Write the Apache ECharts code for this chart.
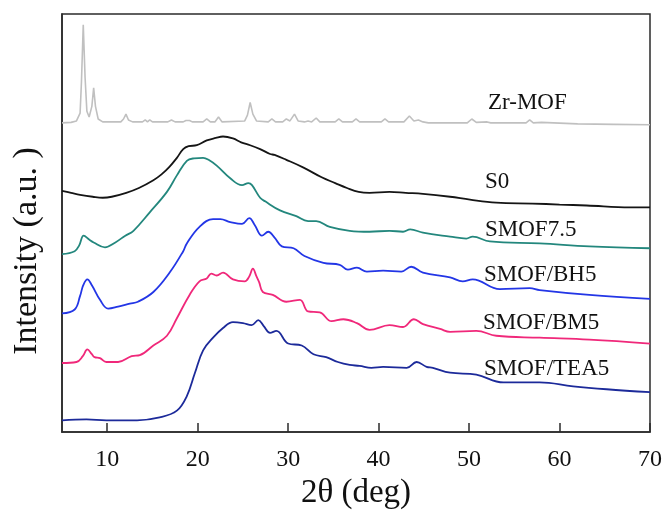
<!DOCTYPE html>
<html>
<head>
<meta charset="utf-8">
<style>
  html, body { margin: 0; padding: 0; background: #ffffff; }
  #chart { width: 665px; height: 515px; }
</style>
<script src="https://cdn.jsdelivr.net/npm/echarts@6/dist/echarts.min.js"></script>
</head>
<body>
<div id="chart"></div>
<script>
// XRD patterns, stacked with vertical offsets (intensity in a.u.).
// Each series is a list of [2θ (deg), stacked intensity] pairs.

const xTicks = [10, 20, 30, 40, 50, 60, 70];

const zrMOF = [
  [5, 318], [6.0, 318.5], [6.6, 320], [7.0, 328], [7.15, 360], [7.35, 419], [7.55, 365],
  [7.75, 330], [8.0, 324], [8.3, 335], [8.5, 354], [8.7, 335], [9.0, 322], [9.5, 319],
  [11.5, 319], [11.8, 322], [12.07, 327], [12.35, 321], [12.8, 319], [13.9, 319],
  [14.2, 321], [14.45, 319], [14.7, 321], [15.0, 319], [16.7, 319], [17.1, 321],
  [17.5, 319], [18.4, 319], [18.7, 320.5], [18.9, 319.5], [19.1, 320.5], [19.4, 319],
  [20.6, 319], [21.0, 322], [21.4, 319], [21.9, 319], [22.3, 324], [22.7, 319],
  [25.2, 320], [25.5, 326], [25.8, 339], [26.1, 327], [26.5, 320], [27.8, 319],
  [28.2, 322], [28.6, 319], [29.4, 319], [29.8, 322], [30.2, 320], [30.7, 327],
  [31.1, 320], [31.8, 319], [32.2, 320], [32.6, 319], [32.8, 320], [33.1, 323],
  [33.5, 319], [34.6, 319], [35.2, 319], [35.6, 322], [36.0, 319], [37.1, 319],
  [37.5, 322], [37.9, 319], [39.4, 319], [40.3, 319], [40.7, 322], [41.1, 319],
  [42.8, 319], [43.4, 325], [43.9, 320], [44.4, 321], [44.9, 319], [45.5, 318],
  [49.8, 318], [50.3, 322], [50.8, 318.5], [52.0, 319], [52.4, 318], [56.3, 318],
  [56.7, 321], [57.1, 318], [58.0, 318.5], [62, 317], [66, 316.5], [70, 316]
];

const s0 = [
  [5, 248], [6, 246], [7, 244], [8.4, 242], [9.5, 241], [10.5, 242], [12.1, 246],
  [13.5, 251], [15.1, 259], [16.0, 265], [16.9, 273], [17.7, 282], [18.4, 291],
  [19.0, 294], [19.9, 295], [21.0, 300], [22.0, 302.5], [22.8, 304], [23.9, 302],
  [24.8, 298], [25.8, 295], [26.9, 291], [28.0, 286], [28.5, 285], [29.8, 280],
  [31.7, 272], [33.7, 262], [35.2, 256], [36.5, 251], [37.8, 247], [39.0, 246],
  [41.2, 247], [43, 246], [44.9, 245], [47.9, 242], [50.1, 239], [53.0, 236],
  [57, 235], [60, 234], [63, 233], [67.8, 231], [70, 231]
];

const smof75 = [
  [5, 183], [6.4, 186], [6.9, 192], [7.4, 202], [8.0, 198], [8.5, 195], [9.75, 190],
  [10.9, 195], [12.0, 202], [12.9, 207], [14.7, 226], [16.6, 247], [17.7, 264],
  [18.8, 279], [19.6, 281.5], [20.6, 282], [21.2, 280], [22.1, 274], [23.6, 261],
  [24.9, 254], [25.6, 256], [26.0, 254], [26.9, 241], [27.5, 237], [29.1, 228],
  [30.9, 222], [32.2, 217], [33.1, 217], [34.6, 211], [36.8, 207], [39, 206],
  [41.2, 207], [42.7, 206], [43.5, 208.5], [44.9, 205], [47.9, 201], [49.7, 199],
  [50.4, 201], [52.3, 196], [57.8, 194], [63.3, 191], [70, 189]
];

const smofBH5 = [
  [5, 122], [6.4, 126], [7.0, 140], [7.35, 151], [7.8, 157], [8.3, 151], [9.2, 136],
  [10.1, 127], [11.2, 129], [12.5, 132], [13.4, 134], [15.1, 144], [16.9, 164],
  [18.4, 186], [18.8, 194], [20.2, 211], [21.7, 219], [22.5, 219], [23.6, 216],
  [24.9, 214], [25.7, 220], [26.3, 213], [27.1, 202], [27.8, 206], [28.5, 200],
  [29.3, 191], [30.6, 189], [31.8, 181], [33.9, 174], [35.7, 172], [36.6, 167],
  [37.6, 169], [38.7, 165], [40.5, 166], [42.5, 165], [43.6, 170], [44.9, 164],
  [47.9, 159], [49.3, 155], [50.4, 157], [53.4, 147], [56.7, 148], [57.8, 146],
  [63.3, 141], [70, 137]
];

const smofBM5 = [
  [5, 71], [6.6, 72], [7.3, 78], [7.8, 85], [8.3, 80], [8.6, 77], [9.2, 76], [9.9, 72],
  [11.2, 72], [12.7, 78], [13.6, 79], [15.1, 89], [16.6, 99], [17.7, 117], [19.1, 141],
  [20.2, 155], [21.0, 158], [21.5, 163], [22.1, 161], [22.8, 164], [23.9, 157],
  [25.2, 155], [25.7, 160], [26.1, 168], [26.5, 160], [26.8, 154], [27.2, 144],
  [28.3, 141], [29.8, 134], [31.3, 136], [32.2, 124], [33.5, 123], [34.8, 114],
  [36.1, 116], [37.6, 112], [39.0, 105], [41.2, 110], [42.7, 108], [43.9, 116],
  [44.9, 111], [46.8, 106], [47.9, 103], [50.8, 104], [53.0, 99], [57.8, 97],
  [63.3, 95], [70, 91]
];

const smofTEA5 = [
  [5, 12], [7.7, 13], [9.9, 12], [13.3, 12], [15.8, 15], [17.7, 22], [18.8, 37],
  [19.7, 61], [20.6, 84], [21.7, 97], [22.8, 107], [23.9, 113], [25.0, 112],
  [25.96, 110], [26.7, 115], [27.3, 109], [28.0, 102], [28.7, 104], [30.0, 91],
  [31.5, 89], [32.8, 80], [34.2, 77], [35.5, 72], [36.8, 69], [37.9, 68], [39.2, 66],
  [40.5, 67], [43.1, 66], [44.2, 72], [45.3, 67], [46.0, 66], [47.9, 61], [50.8, 59],
  [53.8, 51], [57.8, 51], [61.5, 47], [65.2, 44], [70, 41]
];

const sampleNames = ['Zr-MOF', 'S0', 'SMOF7.5', 'SMOF/BH5', 'SMOF/BM5', 'SMOF/TEA5'];

const FONT = '"Liberation Serif", "Times New Roman", serif';

const styles = [
  { color: '#c0c0c0', width: 1.6, smooth: false },
  { color: '#151515', width: 1.8, smooth: 0.4 },
  { color: '#23877d', width: 1.8, smooth: 0.4 },
  { color: '#2336e6', width: 1.8, smooth: 0.4 },
  { color: '#f0287a', width: 1.8, smooth: 0.4 },
  { color: '#1c2a9a', width: 1.8, smooth: 0.4 }
];
const seriesData = [zrMOF, s0, smof75, smofBH5, smofBM5, smofTEA5];

// Curve label anchors (left edge, vertical centre) in pixels
const labelPos = [[488, 103], [485, 182], [485, 230], [484, 275], [483, 323], [484, 369]];

const chart = echarts.init(document.getElementById('chart'), null, { renderer: 'canvas' });

chart.setOption({
  backgroundColor: '#ffffff',
  animation: false,
  grid: {
    left: 62, right: 15, top: 14, bottom: 71,
    show: true, borderColor: '#2b2b2b', borderWidth: 1.5, backgroundColor: 'transparent'
  },
  xAxis: {
    type: 'value',
    min: 5, max: 70,
    name: '2θ (deg)',
    nameLocation: 'middle',
    nameGap: 45,
    nameTextStyle: { fontFamily: FONT, fontSize: 33, color: '#111' },
    axisLine: { show: true, lineStyle: { color: '#2b2b2b', width: 1.6 } },
    axisTick: { show: true, inside: true, length: 9, customValues: xTicks,
                lineStyle: { color: '#2b2b2b', width: 1.5 } },
    axisLabel: { customValues: xTicks, margin: 16, fontFamily: FONT, fontSize: 24, color: '#111' },
    splitLine: { show: false }
  },
  yAxis: {
    type: 'value',
    min: 0, max: 430,
    axisLine: { show: true, lineStyle: { color: '#2b2b2b', width: 1.6 } },
    axisTick: { show: false },
    axisLabel: { show: false },
    splitLine: { show: false }
  },
  series: seriesData.map((d, i) => ({
    name: sampleNames[i],
    type: 'line',
    data: d,
    smooth: styles[i].smooth,
    showSymbol: false,
    lineStyle: { color: styles[i].color, width: styles[i].width },
    z: 10 - i
  })),
  graphic: [
    {
      type: 'text',
      x: 27, y: 251,
      rotation: Math.PI / 2,
      style: {
        text: 'Intensity (a.u. )', fontFamily: FONT, fontSize: 34, fill: '#111',
        align: 'center', verticalAlign: 'middle'
      }
    }
  ].concat(sampleNames.map((n, i) => ({
    type: 'text',
    x: labelPos[i][0],
    y: labelPos[i][1],
    style: { text: n, fontFamily: FONT, fontSize: 23, fill: '#111', verticalAlign: 'middle' }
  })))
});
</script>
</body>
</html>
